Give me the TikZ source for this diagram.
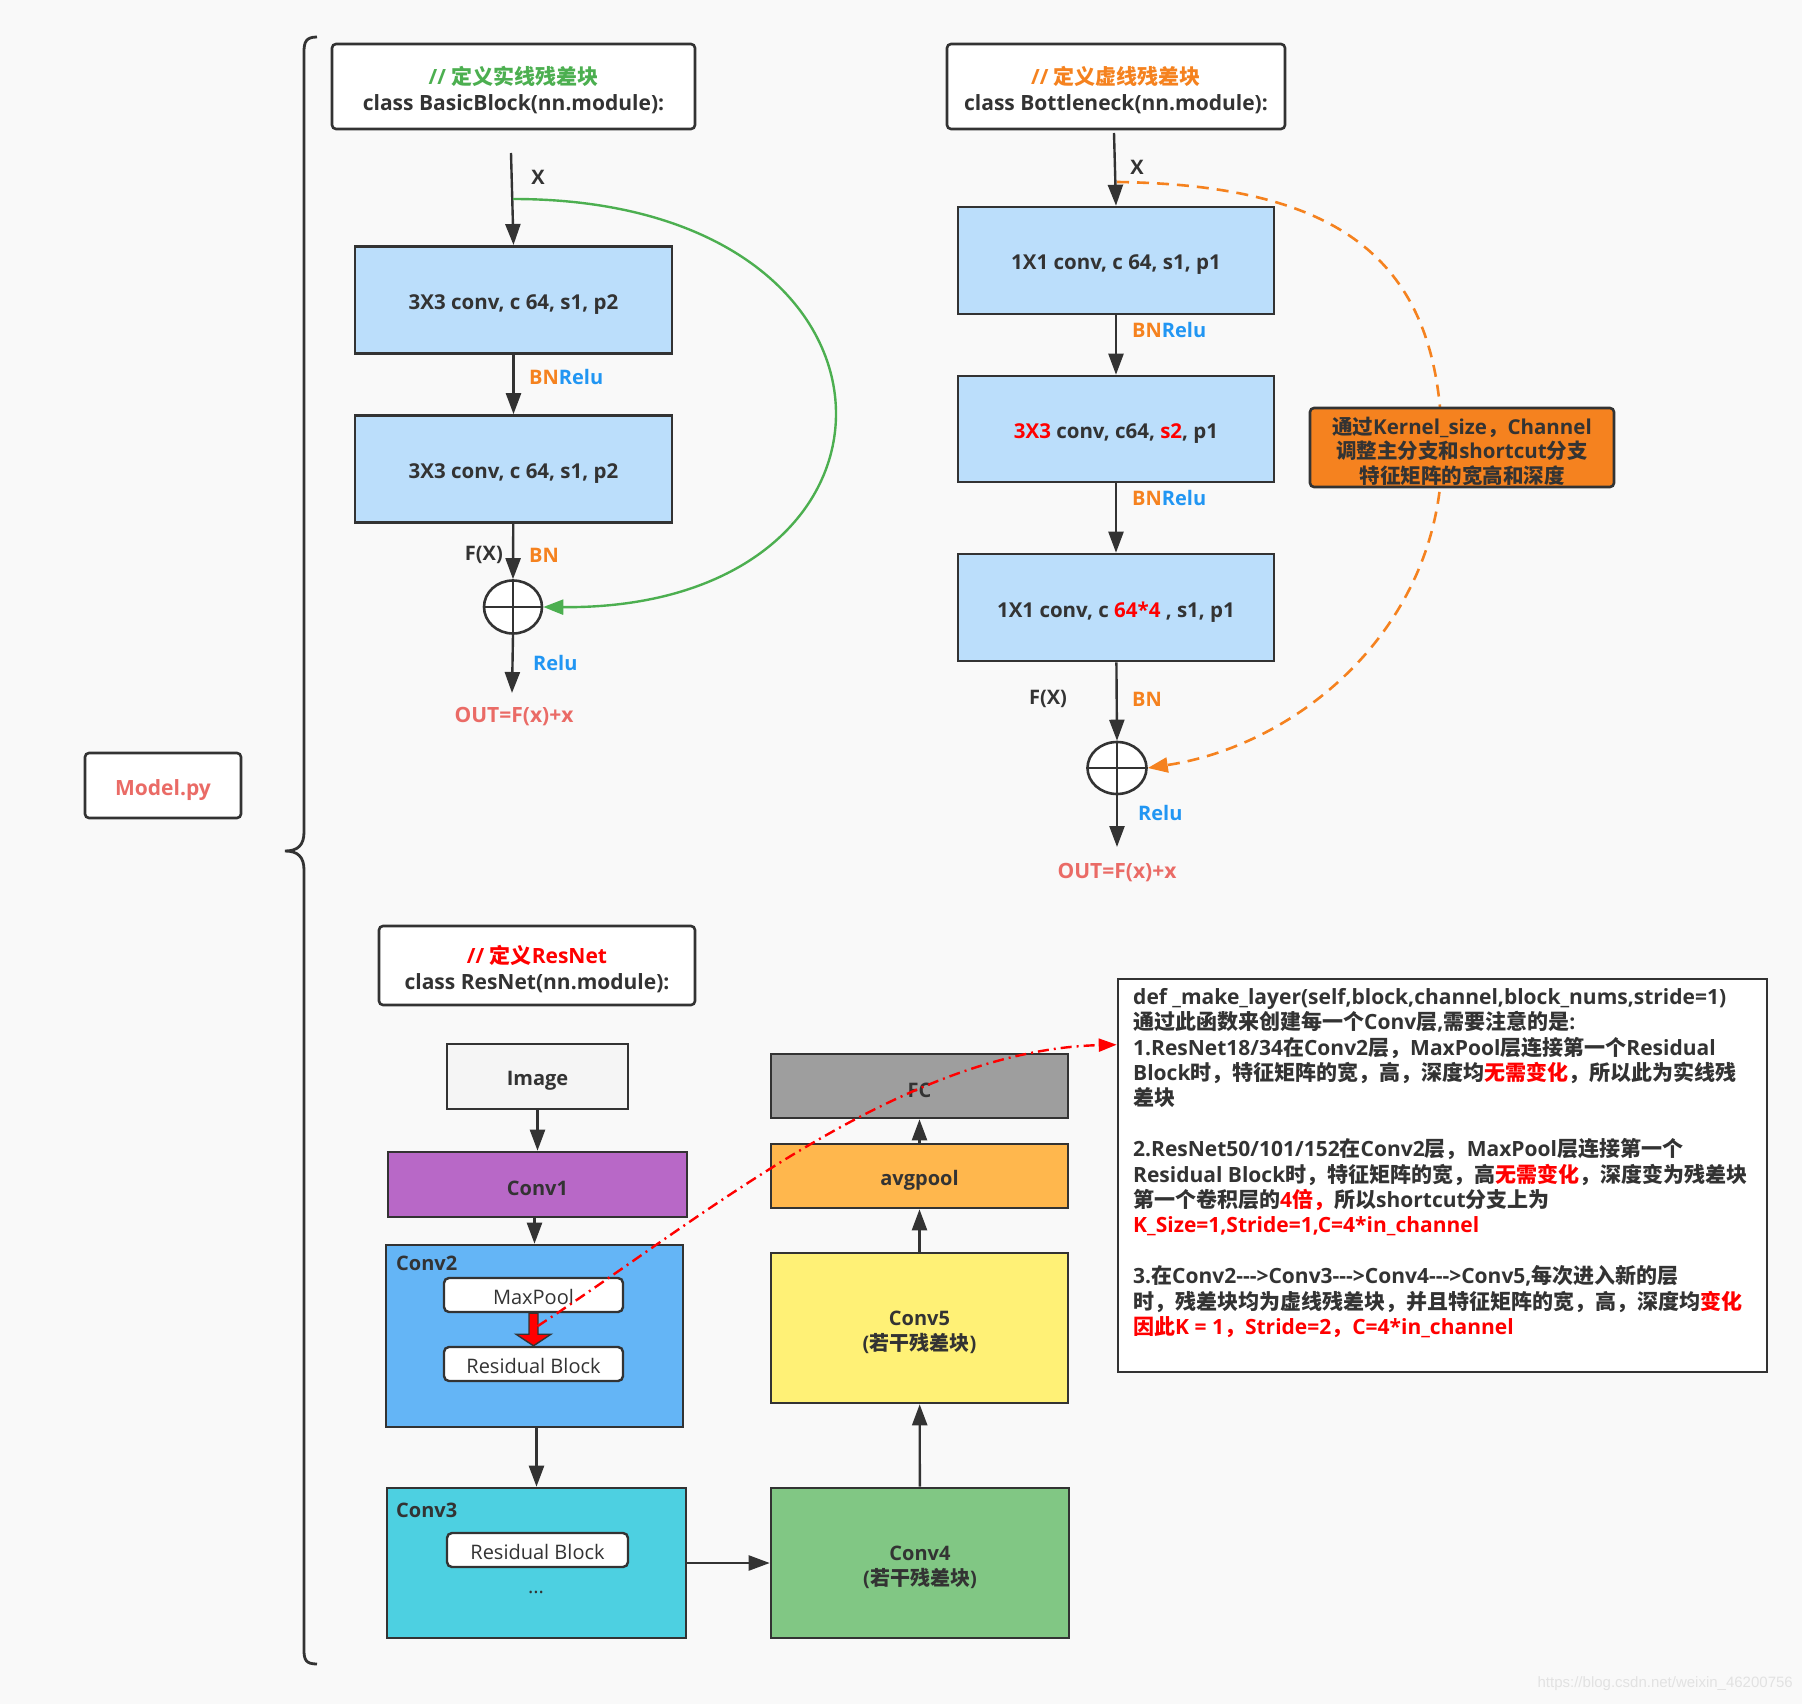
\documentclass[tikz,border=0pt]{standalone}
\usepackage{fontspec}
\setmainfont{Open Sans}
\newfontfamily\opensans{Open Sans}
\newfontfamily\cjkfont{Noto Sans CJK SC}
\newfontfamily\wmfont{Liberation Sans}
\newcommand\latinfont{\opensans}
\usetikzlibrary{arrows.meta,shapes.geometric,calc}
\XeTeXinterchartokenstate=1
\count255="3000
\loop\ifnum\count255<"3040 \XeTeXcharclass\count255=7 \advance\count255 by 1 \repeat
\count255="4E00
\loop\ifnum\count255<"A000 \XeTeXcharclass\count255=7 \advance\count255 by 1 \repeat
\count255="FF00
\loop\ifnum\count255<"FFF0 \XeTeXcharclass\count255=7 \advance\count255 by 1 \repeat
\XeTeXinterchartoks 0 7 = {\cjkfont}
\XeTeXinterchartoks 4095 7 = {\cjkfont}
\XeTeXinterchartoks 7 0 = {\latinfont}
\XeTeXinterchartoks 4095 0 = {\latinfont}

\definecolor{dk}{HTML}{333333}
\definecolor{bbg}{HTML}{F9F9F9}
\definecolor{lblue}{HTML}{BBDEFB}
\definecolor{grn}{HTML}{4CAF50}
\definecolor{org}{HTML}{F5821F}
\definecolor{blu}{HTML}{2196F3}
\definecolor{pnk}{HTML}{EA6B66}
\definecolor{purp}{HTML}{B868C7}
\definecolor{ctwo}{HTML}{64B5F6}
\definecolor{cthree}{HTML}{4DD0E1}
\definecolor{cfour}{HTML}{81C784}
\definecolor{cfive}{HTML}{FFF176}
\definecolor{avgc}{HTML}{FFB74D}
\definecolor{fcc}{HTML}{9E9E9E}
\definecolor{imgc}{HTML}{F5F5F5}
\definecolor{wmc}{HTML}{E2E2E2}

\newcommand\fbig{\fontsize{21}{26}\selectfont\bfseries}
\newcommand\fblk{\fontsize{20.5}{25}\selectfont\bfseries}
\newcommand\fmid{\fontsize{20}{25}\selectfont\bfseries}
\newcommand\flbl{\fontsize{20}{24}\selectfont\bfseries}
\newcommand\freg{\fontsize{20}{24}\selectfont}

\tikzset{
 blk/.style={draw=dk, line width=2.6pt, fill=lblue, minimum width=317pt, minimum height=107pt, inner sep=0pt},
 hdr/.style={draw=dk, line width=2.6pt, fill=white, rounded corners=4pt, inner sep=0pt},
 arr/.style={draw=dk, line width=2.4pt, -{Triangle[length=21pt,width=15pt]}},
 sumnode/.style={draw=dk, line width=2.6pt, fill=white, ellipse, inner sep=0pt},
 lbl/.style={inner sep=0pt, font=\flbl, text=dk},
 btx/.style={inner sep=0pt, text=dk, align=center},
 rbox/.style={draw=dk, line width=2.6pt, inner sep=0pt},
 wbox/.style={draw=dk, line width=2.4pt, fill=white, rounded corners=5pt, inner sep=0pt},
}

\begin{document}
\begin{tikzpicture}[x=1pt,y=-1pt]
\useasboundingbox (0,0) rectangle (1802,1704);
\fill[bbg] (0,0) rectangle (1802,1704);

% brace
\draw[dk, line width=2.8pt] (317,37) .. controls (306,37) and (304,42) .. (304,52) -- (304,832) .. controls (304,845) and (298,851) .. (285,851) .. controls (298,851) and (304,857) .. (304,870) -- (304,1650) .. controls (304,1660) and (306,1664) .. (317,1664);

% headers
\node[hdr, minimum width=363pt, minimum height=85pt] (h1) at (513.5,86.5) {};
\node[btx, font=\fbig] (h1t) at ($(h1)+(0,3.5)$) {\textcolor{grn}{// 定义实线残差块}\\class BasicBlock(nn.module):};
\node[hdr, minimum width=338pt, minimum height=85pt] (h2) at (1116,86.5) {};
\node[btx, font=\fbig] (h2t) at ($(h2)+(0,3.5)$) {\textcolor{org}{// 定义虚线残差块}\\class Bottleneck(nn.module):};
\node[hdr, minimum width=316pt, minimum height=79pt] (h3) at (537,965.5) {};
\node[btx, font=\fbig] (h3t) at ($(h3)+(0,3.5)$) {\textcolor{red}{// 定义ResNet}\\class ResNet(nn.module):};
\node[hdr, minimum width=156pt, minimum height=65pt] (model) at (163,785.5) {};
\node[btx, font=\fbig, text=pnk] (modelt) at ($(model)+(0,5)$) {Model.py};

% ---------------- Basic block
\node[blk] (bb1) at (513.5,299.8) {};
\node[btx, font=\fblk] (bb1t) at ($(bb1)+(0,4.5)$) {3X3 conv, c 64, s1, p2};
\node[blk] (bb2) at (513.5,469) {};
\node[btx, font=\fblk] (bb2t) at ($(bb2)+(0,4.5)$) {3X3 conv, c 64, s1, p2};
\node[sumnode, minimum width=58pt, minimum height=53pt] (s1) at (513,607) {};
\coordinate (xin1) at (511,153);
\coordinate (g0) at (513,199);
\coordinate (out1) at (512,693);
\draw[arr] (xin1) -- (bb1.north);
\draw[arr] (bb1) -- (bb2);
\draw[dk, line width=2.4pt] (s1.west) -- (s1.east);
\draw[dk, line width=2.4pt] (s1.north) -- (s1.south);
\draw[arr] (bb2) -- (s1.north);
\draw[arr] (s1.south) -- (out1);
\draw[grn, line width=2.4pt, -{Triangle[length=20pt,width=15pt]}] (g0) .. controls (935,199) and (935,610) .. (s1.east);
\node[lbl] (x1) at (538,177) {X};
\node[lbl, anchor=west, text=org] (bnr1) at (529,377) {BN\textcolor{blu}{Relu}};
\node[lbl, anchor=east] (fx1) at (503,555) {F(X)};
\node[lbl, anchor=west, text=org] (bn1l) at (529,555) {BN};
\node[lbl, anchor=west, text=blu] (relu1) at (533,663) {Relu};
\node[lbl, text=pnk, font=\fbig] (o1) at (514,717) {OUT=F(x)+x};

% ---------------- Bottleneck
\draw[org, line width=2.6pt, dash pattern=on 12pt off 8pt] (1117,182) .. controls (1345,185) and (1442,263) .. (1442,452);
\coordinate (o0) at (1117,182);
\node[blk, minimum width=316pt, minimum height=107pt] (bn1) at (1116,260.5) {};
\node[btx, font=\fblk] (bn1t) at ($(bn1)+(0,4.5)$) {1X1 conv, c 64, s1, p1};
\node[blk, minimum width=316pt, minimum height=106pt] (bn2) at (1116,429) {};
\node[btx, font=\fblk] (bn2t) at ($(bn2)+(0,4.5)$) {\textcolor{red}{3X3} conv, c64, \textcolor{red}{s2}, p1};
\node[blk, minimum width=316pt, minimum height=107pt] (bn3) at (1116,607.5) {};
\node[btx, font=\fblk] (bn3t) at ($(bn3)+(0,4.5)$) {1X1 conv, c \textcolor{red}{64*4} , s1, p1};
\node[sumnode, minimum width=59pt, minimum height=52pt] (s2) at (1117,768) {};
\coordinate (xin2) at (1114,133);
\coordinate (out2) at (1117,847);
\coordinate (omid) at (1442,452);
\draw[arr] (xin2) -- (bn1.north);
\draw[arr] (bn1) -- (bn2);
\draw[arr] (bn2) -- (bn3);
\draw[dk, line width=2.4pt] (s2.west) -- (s2.east);
\draw[dk, line width=2.4pt] (s2.north) -- (s2.south);
\draw[arr] (bn3) -- (s2.north);
\draw[arr] (s2.south) -- (out2);
\draw[org, line width=2.6pt, dash pattern=on 12pt off 8pt, -{Triangle[length=20pt,width=15pt]}] (omid) .. controls (1442,626) and (1300,745) .. (s2.east);
\node[draw=dk, line width=2.6pt, fill=org, rounded corners=4pt, minimum width=304pt, minimum height=79pt, inner sep=0pt] (note) at (1462,447.5) {};
\node[btx, font=\fontsize{20.5}{24.5}\selectfont\bfseries] (notet) at ($(note)+(0,3.5)$) {通过Kernel\_size，Channel\\调整主分支和shortcut分支\\特征矩阵的宽高和深度};
\node[lbl] (x2) at (1137,167) {X};
\node[lbl, anchor=west, text=org] (bnr2) at (1132,330) {BN\textcolor{blu}{Relu}};
\node[lbl, anchor=west, text=org] (bnr3) at (1132,498) {BN\textcolor{blu}{Relu}};
\node[lbl] (fx2) at (1048,699) {F(X)};
\node[lbl, anchor=west, text=org] (bn2l) at (1132,699) {BN};
\node[lbl, anchor=west, text=blu] (relu2) at (1138,813) {Relu};
\node[lbl, text=pnk, font=\fbig] (o2) at (1117,873) {OUT=F(x)+x};

% ---------------- ResNet
\node[rbox, fill=imgc, minimum width=181pt, minimum height=65pt] (img) at (537.5,1076.5) {};
\node[btx, font=\fmid] (imgt) at ($(img)+(0,4.5)$) {Image};
\node[rbox, fill=purp, minimum width=299pt, minimum height=65pt] (conv1) at (537.5,1184.5) {};
\node[btx, font=\fmid] (conv1t) at ($(conv1)+(0,4)$) {Conv1};
\node[rbox, fill=ctwo, minimum width=297pt, minimum height=182pt] (conv2) at (534.5,1336) {};
\node[lbl, anchor=west, font=\fmid] (c2l) at (396,1263) {Conv2};
\node[wbox, minimum width=179pt, minimum height=34pt] (mp) at (533.5,1295) {};
\node[btx, font=\freg] (mpt) at ($(mp)+(0,1.5)$) {MaxPool};
\node[wbox, minimum width=179pt, minimum height=34pt] (rb1) at (533.5,1364) {};
\node[btx, font=\freg] (rb1t) at ($(rb1)+(0,2)$) {Residual Block};
\fill[red, draw=dk, line width=1.4pt] ($(mp.south)+(-4.5,0)$) -- ($(mp.south)+(-4.5,21)$) -- ($(mp.south)+(-17.5,21)$) -- (rb1.north) -- ($(mp.south)+(17.5,21)$) -- ($(mp.south)+(4.5,21)$) -- ($(mp.south)+(4.5,0)$) -- cycle;
\node[rbox, fill=cthree, minimum width=299pt, minimum height=150pt] (conv3) at (536.5,1563) {};
\node[lbl, anchor=west, font=\fmid] (c3l) at (396,1510) {Conv3};
\node[wbox, minimum width=181pt, minimum height=34pt] (rb2) at (537.5,1550) {};
\node[btx, font=\freg] (rb2t) at ($(rb2)+(0,2)$) {Residual Block};
\node[lbl, font=\freg] (dots) at (536,1592) {...};
\node[rbox, fill=cfour, minimum width=298pt, minimum height=150pt] (conv4) at (920,1563) {};
\node[btx, font=\fmid] (conv4t) at ($(conv4)+(0,4)$) {Conv4\\(若干残差块)};
\node[rbox, fill=cfive, minimum width=297pt, minimum height=150pt] (conv5) at (919.5,1328) {};
\node[btx, font=\fmid] (conv5t) at ($(conv5)+(0,4)$) {Conv5\\(若干残差块)};
\node[rbox, fill=avgc, minimum width=297pt, minimum height=64pt] (avg) at (919.5,1176) {};
\node[btx, font=\fmid] (avgt) at ($(avg)+(0,4.5)$) {avgpool};
\node[rbox, fill=fcc, minimum width=297pt, minimum height=64pt] (fc) at (919.5,1086) {};
\node[btx, font=\fmid] (fct) at ($(fc)+(0,4)$) {FC};

\draw[arr] (img) -- (conv1);
\draw[arr] (conv2.north |- conv1.south) -- (conv2.north);
\draw[arr] (conv2.south -| conv3.north) -- (conv3.north);
\draw[arr] (conv3) -- (conv4);
\draw[arr] (conv4) -- (conv5);
\draw[arr] (conv5) -- (avg);
\draw[arr] (avg) -- (fc);

% text box
\node[draw=dk, line width=2.6pt, fill=white, minimum width=649pt, minimum height=393pt, inner sep=0pt] (tb) at (1442.5,1175.5) {};
\node[anchor=north west, inner sep=0pt, align=left, text=dk, font=\fontsize{21}{25.4}\selectfont\bfseries] (tbt) at (1133,988) {def \_make\_layer(self,block,channel,block\_nums,stride=1)\\
通过此函数来创建每一个Conv层,需要注意的是:\\
1.ResNet18/34在Conv2层，MaxPool层连接第一个Residual\\
Block时，特征矩阵的宽，高，深度均\textcolor{red}{无需变化}，所以此为实线残\\
差块\\[25.4pt]
2.ResNet50/101/152在Conv2层，MaxPool层连接第一个\\
Residual Block时，特征矩阵的宽，高\textcolor{red}{无需变化}，深度变为残差块\\
第一个卷积层的\textcolor{red}{4倍，}所以shortcut分支上为\\
\textcolor{red}{K\_Size=1,Stride=1,C=4*in\_channel}\\[25.4pt]
3.在Conv2-{}-{}->Conv3-{}-{}->Conv4-{}-{}->Conv5,每次进入新的层\\
时，残差块均为虚线残差块，并且特征矩阵的宽，高，深度均\textcolor{red}{变化}\\
\textcolor{red}{因此K = 1，Stride=2，C=4*in\_channel}};

% red dash-dot connector
\draw[red, line width=2.4pt, dash pattern=on 11pt off 5pt on 2pt off 5pt, -{Triangle[length=18pt,width=13pt]}] ($(mp.south)+(4,13)$) .. controls (700,1220) and (900,1050) .. ($(tb.north west)+(0,67)$);

% watermark
\node[anchor=east, inner sep=0pt, text=wmc, font=\let\latinfont\wmfont\wmfont\fontsize{15}{18}\selectfont] (wm) at (1793,1684) {https://blog.csdn.net/weixin\_46200756};
\end{tikzpicture}
\end{document}
